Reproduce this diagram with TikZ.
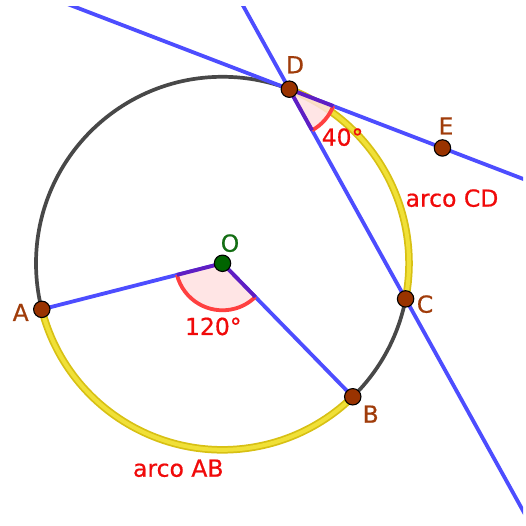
\documentclass[tikz,border=0pt]{standalone}
\usepackage{fontspec}
\setmainfont{DejaVu Sans}[FakeBold=0.6]
\usetikzlibrary{calc}
\definecolor{lineblue}{RGB}{77,77,255}
\definecolor{circgray}{RGB}{72,72,72}
\definecolor{yelout}{RGB}{215,192,20}
\definecolor{yelin}{RGB}{240,224,55}
\definecolor{ptbrown}{RGB}{153,51,0}
\definecolor{labbrown}{RGB}{160,60,10}
\definecolor{ptgreen}{RGB}{0,100,0}
\definecolor{labgreen}{RGB}{20,110,20}
\definecolor{angred}{RGB}{255,64,64}
\definecolor{angfill}{RGB}{255,225,225}
\definecolor{angedge}{RGB}{95,30,195}
\definecolor{txtred}{RGB}{240,10,10}
\tikzset{
  circ/.style={draw=circgray,line width=3.7pt},
  yelarcout/.style={draw=yelout,line width=7.5pt},
  yelarcin/.style={draw=yelin,line width=4pt},
  blueline/.style={draw=lineblue,line width=3.8pt},
  sectorfill/.style={fill=angfill,fill opacity=0.85},
  sectorarc/.style={draw=angred,line width=3.8pt},
  sectoredge/.style={draw=angedge,line width=3.8pt},
  ptb/.style={fill=ptbrown,draw=black,line width=1.1pt},
  ptg/.style={fill=ptgreen,draw=black,line width=1.1pt},
  lab/.style={inner sep=0pt,anchor=base,font=\fontsize{23.5}{28}\selectfont},
  blab/.style={lab,text=labbrown},
  glab/.style={lab,text=labgreen},
  rlab/.style={lab,text=txtred}
}
\begin{document}
\begin{tikzpicture}[x=1pt,y=1pt]
\useasboundingbox (0,0) rectangle (525,526);
\def\R{186.5}
\coordinate (O) at (222.5,262.7);
\coordinate (A) at ($(O)+(194.3:\R)$);
\coordinate (B) at ($(O)+(314.3:\R)$);
\coordinate (C) at ($(O)+(-11:\R)$);
\coordinate (D) at ($(O)+(69:\R)$);
\coordinate (E) at ($(D)+(-21:164)$);
% circle
\draw[circ] (O) circle[radius=\R];
% arcs
\draw[yelarcout] (A) arc[start angle=194.3,end angle=314.3,radius=\R];
\draw[yelarcin] (A) arc[start angle=194.3,end angle=314.3,radius=\R];
\draw[yelarcout] (C) arc[start angle=-11,end angle=69,radius=\R];
\draw[yelarcin] (C) arc[start angle=-11,end angle=69,radius=\R];
% segments and lines
\draw[blueline] (A) -- (O) -- (B);
\begin{scope}
\clip (0,0) rectangle (523,519);
\draw[blueline] ($(D)!-3!(E)$) -- ($(D)!3!(E)$);
\draw[blueline] ($(D)!-1!(C)$) -- ($(D)!2.5!(C)$);
\end{scope}
% angle at O
\fill[sectorfill] (O) -- ($(O)+(194.3:47)$) arc[start angle=194.3,end angle=314.3,radius=47] -- cycle;
\draw[sectorarc] ($(O)+(194.3:47)$) arc[start angle=194.3,end angle=314.3,radius=47];
\draw[sectoredge] ($(O)+(194.3:47)$) -- (O) -- ($(O)+(314.3:47)$);
% angle at D
\fill[sectorfill] (D) -- ($(D)+(-61:47)$) arc[start angle=-61,end angle=-21,radius=47] -- cycle;
\draw[sectorarc] ($(D)+(-61:47)$) arc[start angle=-61,end angle=-21,radius=47];
\draw[sectoredge] ($(D)+(-61:47)$) -- (D) -- ($(D)+(-21:47)$);
% points
\draw[ptb] (A) circle[radius=8.2];
\draw[ptb] (B) circle[radius=8.2];
\draw[ptb] (C) circle[radius=8.2];
\draw[ptb] (D) circle[radius=8.2];
\draw[ptb] (E) circle[radius=8.2];
\draw[ptg] (O) circle[radius=8.2];
% labels
\node[blab] (lD) at (295,452.7) {D};
\node[blab] (lE) at (446,391.5) {E};
\node[blab] (lA) at (20.7,205) {A};
\node[blab] (lC) at (425,213.3) {C};
\node[blab] (lB) at (370.7,103.3) {B};
\node[glab] (lO) at (230,274.3) {O};
\node[rlab] (a120) at (213.3,191) {120°};
\node[rlab] (a40) at (342.5,380.3) {40°};
\node[rlab] (arcCD) at (452,319.3) {arco CD};
\node[rlab] (arcAB) at (178.3,49.3) {arco AB};
\end{tikzpicture}
\end{document}
